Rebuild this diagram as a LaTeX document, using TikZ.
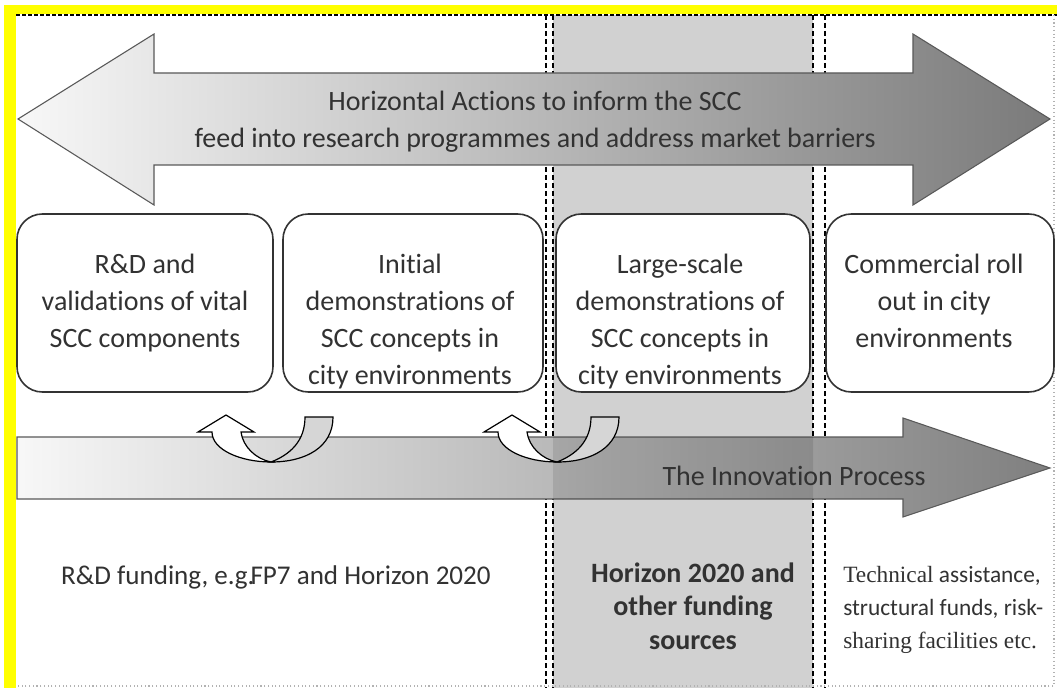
\documentclass[tikz,border=0pt]{standalone}
\usepackage{fontspec}
\setmainfont{Carlito}[Ligatures={NoCommon}]
\newfontfamily\serifpart{Liberation Serif}
\definecolor{frameyellow}{RGB}{255,255,0}
\definecolor{txt}{RGB}{50,50,50}
\begin{document}
\begin{tikzpicture}[x=0.75pt,y=-0.75pt,
  boxstyle/.style={draw=black!80, line width=1.2pt, rounded corners=19pt, fill=white, minimum height=133.5pt, inner sep=0pt},
  vdash/.style={draw=black, line width=1.5pt, dash pattern=on 3.75pt off 2.25pt},
  arrowline/.style={draw=black!65, line width=0.8pt},
  bigtxt/.style={font=\fontsize{21}{27.75}\selectfont, text=txt, align=center, inner sep=0pt},
  boldtxt/.style={font=\fontsize{21}{25}\selectfont\bfseries, text=txt, align=center, inner sep=0pt},
  smalltxt/.style={font=\fontsize{17.5}{24.8}\selectfont, text=txt, align=left, inner sep=0pt},
  uback/.style={draw=black, line width=0.9pt, fill=black!16},
  ufront/.style={draw=black, line width=0.9pt, fill=white}]
\useasboundingbox (0,0) rectangle (1057,688);
\fill[white] (0,0) rectangle (1057,688);
% grey band
\fill[black!18] (553,15) rectangle (813,688);
% yellow frame
\fill[frameyellow] (4,5) rectangle (16,688);
\fill[frameyellow] (4,5) rectangle (1057,14);
% page frame
\draw[black, line width=1.2pt, dash pattern=on 3pt off 1.5pt] (16,15) -- (1057,15);
\draw[black!30, line width=0.8pt, dotted] (1054,15) -- (1054,686) -- (16,686);
% vertical dashed lines
\foreach \xx in {546,553,813,825} \draw[vdash] (\xx,15) -- (\xx,688);
% upper double arrow
\path[arrowline, left color=black!3, right color=black!52]
  (18,119) -- (154,34) -- (154,73) -- (913,73) -- (913,34) -- (1050,119) -- (913,205) -- (913,165) -- (154,165) -- (154,205) -- cycle;
\node[bigtxt] (horiz) at (535,122) {Horizontal Actions to inform the SCC\\feed into research programmes and address market barriers};
% boxes
\node[boxstyle, minimum width=192pt] (b1) at (145,303) {};
\node[boxstyle, minimum width=195pt] (b2) at (413,303) {};
\node[boxstyle, minimum width=190.5pt] (b3) at (683,303) {};
\node[boxstyle, minimum width=171pt] (b4) at (940,303) {};
\node[bigtxt, anchor=north] (t1) at (145,254) {R\&D and\\validations of vital\\SCC components};
\node[bigtxt, anchor=north] (t2) at (410,254) {Initial\\demonstrations of\\SCC concepts in\\city environments};
\node[bigtxt, anchor=north] (t3) at (680,254) {Large-scale\\demonstrations of\\SCC concepts in\\city environments};
\node[bigtxt, anchor=north] (t4) at (934,254) {Commercial roll\\out in city\\environments};
% lower arrow
\path[arrowline, left color=black!3, middle color=black!11, right color=black!50]
  (17,437) -- (903,437) -- (903,418) -- (1050,468) -- (903,517) -- (903,499) -- (17,499) -- cycle;
\begin{scope}
  \clip (553,400) rectangle (813,540);
  \fill[black, opacity=0.1] (17,437) -- (903,437) -- (903,418) -- (1050,468) -- (903,517) -- (903,499) -- (17,499) -- cycle;
\end{scope}
\node[bigtxt] (innov) at (794,476) {The Innovation Process};
% curved arrows
\foreach \bx in {271,557} {
\begin{scope}[shift={(\bx,462)}]
  \path[uback] (34,-45) -- (62,-45) .. controls (62,-15) and (35,0) .. (0,0) .. controls (18,-7) and (34,-20) .. (34,-45) -- cycle;
  \path[ufront] (0,0) .. controls (-30,0) and (-59,-12) .. (-59,-30) -- (-73,-30) -- (-45,-47) -- (-17,-30) -- (-30,-30) .. controls (-28,-15) and (-15,-3) .. (0,0) -- cycle;
\end{scope}
}
% bottom texts
\node[bigtxt, font=\fontsize{20.3}{27}\selectfont] (fund1) at (276,577) {R\&D funding, e.g.\kern-3pt FP7 and Horizon 2020};
\node[boldtxt] (fund2) at (693,606) {Horizon 2020 and\\other funding\\sources};
\node[smalltxt, anchor=north west] (fund3) at (843,566) {{\serifpart Technical} assistance,\\structural funds, risk-\\{\serifpart sharing facilities etc.}};
\end{tikzpicture}
\end{document}
